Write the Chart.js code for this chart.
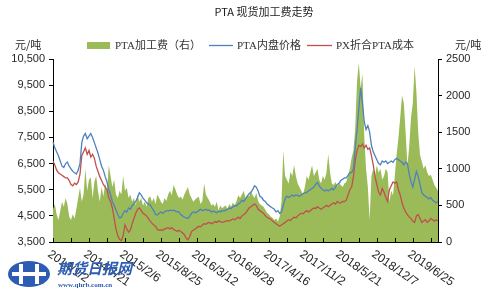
<!DOCTYPE html>
<html>
<head>
<meta charset="utf-8">
<script src="https://cdn.jsdelivr.net/npm/chart.js@4/dist/chart.umd.min.js"></script>
<style>
    html, body { margin: 0; padding: 0; background: #fff; }
    canvas { display: block; }
</style>
</head>
<body>
<canvas id="pta-fee-chart" width="500" height="299"></canvas>
<script>
// 10-day samples starting 2014/1/2
const startDay = [2014, 0, 2];
const stepDays = 10;

const tickLabels = ['2014/1/2', '2014/7/21', '2015/2/6', '2015/8/25', '2016/3/12', '2016/9/28',
    '2017/4/16', '2017/11/2', '2018/5/21', '2018/12/7', '2019/6/25'];
const labelEvery = 20;
const markEvery = 10;

const leftTicks = [3500, 10500, 1000];
const rightTicks = [0, 2500, 500];

const seriesNames = ['PTA加工费（右）', 'PTA内盘价格', 'PX折合PTA成本'];

const ptaPrice = [
    7330, 7100, 6950, 6800, 6600, 6400, 6350, 6500, 6560, 6400,
    6300, 6200, 6150, 6100, 6250, 6500, 7300, 7550, 7650, 7450,
    7550, 7650, 7500, 7300, 7100, 6900, 6650, 6400, 6250, 6000,
    5800, 5500, 5300, 5050, 4900, 4720, 4550, 4420, 4450, 4600,
    4700, 4650, 4800, 4750, 4900, 4950, 5050, 5200, 5380, 5300,
    5180, 5100, 5000, 4950, 4920, 4800, 4700, 4550, 4530, 4600,
    4650, 4600, 4650, 4700, 4680, 4720, 4700, 4720, 4680, 4650,
    4650, 4550, 4500, 4450, 4420, 4400, 4480, 4600, 4650, 4620,
    4650, 4700, 4750, 4700, 4720, 4750, 4700, 4720, 4650, 4680,
    4650, 4620, 4680, 4650, 4700, 4680, 4720, 4750, 4800, 4780,
    4850, 4900, 4880, 4950, 5000, 5100, 5050, 5150, 5250, 5350,
    5400, 5500, 5650, 5600, 5450, 5250, 5200, 5100, 5050, 4950,
    4900, 4850, 4800, 4750, 4650, 4700, 4600, 4650, 4900, 5150,
    5250, 5200, 5250, 5300, 5250, 5300, 5280, 5250, 5300, 5350,
    5380, 5400, 5450, 5500, 5550, 5600, 5700, 5780, 5650, 5550,
    5500, 5450, 5500, 5450, 5500, 5550, 5500, 5600, 5700, 5750,
    5850, 5900, 5950, 5950, 6050, 6150, 6150, 6300, 7100, 7800,
    8600, 9400, 8800, 8100, 7800, 7950, 7700, 7200, 6950, 6800,
    6650, 6500, 6450, 6600, 6550, 6600, 6500, 6550, 6600, 6550,
    6650, 6700, 6650, 6600, 6550, 6450, 6550, 6500, 6100, 5800,
    5600, 5900, 6200, 6000, 5700, 5400, 5300, 5250, 5200, 5150,
    5200, 5100, 5050, 5000, 5050
];

const pxCost = [
    6600, 6450, 6250, 6150, 6100, 6050, 6000, 5950, 5950, 5850,
    5700, 5650, 5750, 5700, 5800, 6100, 6800, 6950, 7100, 6850,
    7000, 6750, 6850, 6700, 6400, 6200, 6000, 5850, 5700, 5600,
    5500, 5200, 5050, 4800, 4400, 4000, 3750, 3600, 3550, 3750,
    4150, 4000, 3880, 3950, 4200, 4400, 4600, 4750, 4800, 4700,
    4600, 4550, 4500, 4400, 4300, 4220, 4150, 4100, 3980, 3950,
    3960, 3950, 4000, 4020, 4050, 4000, 4050, 3980, 3950, 3900,
    3950, 3900, 3850, 3780, 3650, 3580, 3700, 3900, 3950, 4000,
    4050, 4100, 4080, 4150, 4200, 4180, 4230, 4250, 4200, 4230,
    4280, 4250, 4300, 4280, 4250, 4270, 4300, 4320, 4300, 4340,
    4380, 4350, 4400, 4450, 4400, 4500, 4550, 4600, 4700, 4800,
    4850, 4900, 4950, 4900, 4750, 4700, 4650, 4600, 4500, 4450,
    4400, 4380, 4300, 4250, 4200, 4150, 4100, 4150, 4200, 4250,
    4300, 4350, 4320, 4400, 4450, 4420, 4500, 4550, 4600, 4580,
    4650, 4700, 4650, 4700, 4750, 4800, 4780, 4850, 4800, 4750,
    4800, 4850, 4900, 4850, 4900, 4950, 5000, 4950, 5050, 5000,
    5000, 5050, 5050, 5100, 5300, 5500, 5600, 6000, 6600, 7000,
    7200, 7150, 7250, 7100, 7200, 7050, 7100, 6800, 6450, 6000,
    5700, 5400, 5300, 5550, 5400, 5200, 5050, 5500, 5650, 5800,
    5750, 5800, 5500, 5300, 5000, 4800, 4650, 4550, 4450, 4400,
    4300, 4250, 4500, 4550, 4400, 4250, 4300, 4350, 4250, 4300,
    4400, 4350, 4300, 4350, 4300
];

const processingFee = [
    450, 520, 380, 300, 420, 550, 480, 600, 520, 350,
    300, 380, 320, 450, 600, 740, 550, 650, 1000, 700,
    850, 880, 600, 820, 900, 700, 550, 750, 620, 800,
    700, 1050, 900, 750, 850, 650, 600, 700, 650, 900,
    700, 740, 600, 650, 550, 600, 500, 650, 550, 600,
    500, 550, 480, 600, 620, 550, 600, 520, 650, 600,
    550, 520, 600, 560, 650, 700, 640, 780, 720, 650,
    600, 620, 580, 650, 700, 750, 650, 600, 550, 580,
    600, 620, 520, 560, 800, 650, 600, 560, 500, 520,
    480, 550, 430, 500, 460, 480, 500, 450, 520, 480,
    540, 500, 560, 640, 600, 650, 700, 600, 650, 620,
    700, 640, 600, 670, 560, 520, 500, 480, 440, 400,
    380, 350, 330, 300, 320, 280, 350, 550, 1250, 900,
    850, 800, 960, 900, 1050, 900, 800, 750, 700, 650,
    750, 900, 850, 950, 1050, 900, 950, 1000, 850, 800,
    900, 850, 950, 1200, 950, 800, 780, 820, 760, 800,
    780, 750, 800, 820, 900, 1000, 1150, 1250, 1550, 2200,
    2450, 2100, 2300, 1450, 1000, 750, 300, 900, 1000, 900,
    1050, 950, 1000, 850, 900, 1000, 950, 550, 700, 640,
    900, 1200, 1420, 1700, 2000, 1900, 1500, 1050, 1300, 1700,
    1900, 2400, 2050, 1500, 1190, 1100, 1000, 1050, 950, 900,
    920, 850, 780, 740, 700
];

const categories = processingFee.map((_, i) => {
    const d = new Date(startDay[0], startDay[1], startDay[2] + i * stepDays);
    return `${d.getFullYear()}/${d.getMonth() + 1}/${d.getDate()}`;
});

const GREEN = '#9bbb59';
const BLUE = '#4f81bd';
const RED = '#c0504d';
const AXIS = '#000';
const TEXT = '#262626';
const SANS = '"Liberation Sans", Arial, "Noto Sans CJK SC", sans-serif';
const SERIF = '"Liberation Serif", "Noto Sans CJK SC", serif';
const CJK = '"Noto Sans CJK SC", "Liberation Sans", sans-serif';

const decorPlugin = {
    id: 'decor',
    beforeDraw(chart) {
        const { ctx, width, height } = chart;
        ctx.save();
        ctx.fillStyle = '#fff';
        ctx.fillRect(0, 0, width, height);
        ctx.restore();
    },
    afterDraw(chart) {
        const { ctx, chartArea, scales } = chart;
        const x = scales.x;
        ctx.save();

        // inward tick marks on the date axis
        ctx.strokeStyle = AXIS;
        ctx.lineWidth = 1;
        ctx.beginPath();
        for (let i = 0; i < categories.length; i += markEvery) {
            const px = Math.round(x.getPixelForValue(i)) + 0.5;
            ctx.moveTo(px, chartArea.bottom);
            ctx.lineTo(px, chartArea.bottom - 4);
        }
        ctx.stroke();

        // rotated date labels, reading downwards from the tick
        ctx.fillStyle = TEXT;
        ctx.font = `12px ${SANS}`;
        ctx.textAlign = 'left';
        ctx.textBaseline = 'middle';
        tickLabels.forEach((label, k) => {
            const px = x.getPixelForValue(k * labelEvery);
            ctx.save();
            ctx.translate(px - 4, chartArea.bottom + 11);
            ctx.rotate(35 * Math.PI / 180);
            ctx.fillText(label, 0, 0);
            ctx.restore();
        });

        // title
        ctx.fillStyle = '#1a1a1a';
        ctx.font = `11px ${CJK}`;
        ctx.textAlign = 'center';
        ctx.fillText('PTA 现货加工费走势', 264, 12);

        // unit labels
        ctx.font = `11px ${CJK}`;
        ctx.textAlign = 'left';
        ctx.fillStyle = TEXT;
        ctx.fillText('元/吨', 15, 45);
        ctx.fillText('元/吨', 455, 45);

        // legend
        ctx.font = `11px ${SERIF}`;
        ctx.fillStyle = '#333';
        ctx.fillStyle = GREEN;
        ctx.fillRect(87, 42, 23, 7);
        ctx.fillStyle = '#333';
        ctx.fillText(seriesNames[0], 115, 46);
        ctx.strokeStyle = BLUE;
        ctx.lineWidth = 1.3;
        ctx.beginPath();
        ctx.moveTo(209, 45.5);
        ctx.lineTo(233, 45.5);
        ctx.stroke();
        ctx.fillText(seriesNames[1], 237, 46);
        ctx.strokeStyle = RED;
        ctx.beginPath();
        ctx.moveTo(307, 45.5);
        ctx.lineTo(332, 45.5);
        ctx.stroke();
        ctx.fillText(seriesNames[2], 336, 46);

        // watermark
        ctx.fillStyle = '#2c5db2';
        ctx.beginPath();
        ctx.ellipse(29, 274, 21, 13, 0, 0, Math.PI * 2);
        ctx.fill();
        ctx.fillStyle = '#fff';
        ctx.fillRect(12, 272, 34, 4);
        ctx.fillRect(19, 264, 4, 20);
        ctx.fillRect(35, 264, 4, 20);
        ctx.fillStyle = '#2c5db2';
        ctx.font = `italic bold 15px ${CJK}`;
        ctx.textBaseline = 'middle';
        ctx.fillText('期货日报网', 57, 268);
        ctx.font = `bold 7px ${SERIF}`;
        ctx.fillText('www.qhrb.com.cn', 58, 285);

        ctx.restore();
    },
};

const ctx = document.getElementById('pta-fee-chart').getContext('2d');
new Chart(ctx, {
    type: 'line',
    data: {
        labels: categories,
        datasets: [
            {
                label: seriesNames[1],
                data: ptaPrice,
                yAxisID: 'y',
                borderColor: BLUE,
                borderWidth: 1.3,
                pointRadius: 0,
                tension: 0,
                fill: false,
                order: 1,
            },
            {
                label: seriesNames[2],
                data: pxCost,
                yAxisID: 'y',
                borderColor: RED,
                borderWidth: 1.3,
                pointRadius: 0,
                tension: 0,
                fill: false,
                order: 2,
            },
            {
                label: seriesNames[0],
                data: processingFee,
                yAxisID: 'y2',
                borderColor: GREEN,
                borderWidth: 0,
                backgroundColor: GREEN,
                pointRadius: 0,
                tension: 0,
                fill: 'origin',
                order: 3,
            },
        ],
    },
    options: {
        responsive: false,
        animation: false,
        devicePixelRatio: 1,
        layout: {
            padding: { top: 59, left: 0, right: 0, bottom: 0 },
        },
        plugins: {
            legend: { display: false },
            title: { display: false },
            tooltip: { enabled: false },
        },
        scales: {
            x: {
                type: 'category',
                offset: false,
                ticks: { display: false },
                grid: { display: false },
                border: { display: true, color: AXIS, width: 1 },
                afterFit(scale) {
                    scale.height = 57;
                },
            },
            y: {
                position: 'left',
                min: leftTicks[0],
                max: leftTicks[1],
                ticks: {
                    stepSize: leftTicks[2],
                    padding: 4,
                    color: TEXT,
                    font: { family: SANS, size: 11 },
                    callback: (v) => v.toLocaleString('en-US'),
                },
                grid: { drawOnChartArea: false, tickLength: 4, color: AXIS },
                border: { display: true, color: AXIS, width: 1 },
                afterFit(scale) {
                    scale.width = 53;
                },
            },
            y2: {
                position: 'right',
                min: rightTicks[0],
                max: rightTicks[1],
                ticks: {
                    stepSize: rightTicks[2],
                    padding: 4,
                    color: TEXT,
                    font: { family: SANS, size: 11 },
                    callback: (v) => String(v),
                },
                grid: { drawOnChartArea: false, tickLength: 4, color: AXIS },
                border: { display: true, color: AXIS, width: 1 },
                afterFit(scale) {
                    scale.width = 62;
                },
            },
        },
    },
    plugins: [decorPlugin],
});
</script>
</body>
</html>
